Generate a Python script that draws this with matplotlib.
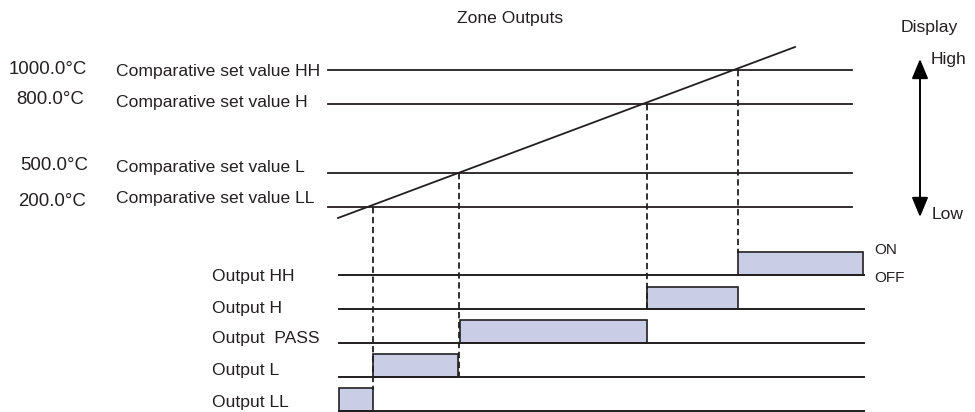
import matplotlib
matplotlib.use('Agg')
import matplotlib.pyplot as plt

plt.rcParams['font.family'] = ['Liberation Sans', 'DejaVu Sans']
plt.rcParams['font.size'] = 12.6

ink = '#231f20'
fill = '#c9cde6'

# comparative set values (top to bottom) and their level in the diagram
set_names = ['Comparative set value HH', 'Comparative set value H',
             'Comparative set value L', 'Comparative set value LL']
set_temps = ['1000.0\u00b0C', '800.0\u00b0C', '500.0\u00b0C', '200.0\u00b0C']
set_levels = [70, 104, 172.5, 206.5]
set_label_y = [71, 102, 167, 198]
temp_label_y = [69, 99, 165, 201]
temp_label_x = [48, 50, 54, 52]

# rising display value (start / end)
ramp_x = [338, 795]
ramp_y = [218, 47]

# where the display value crosses LL, L, H, HH
switch_x = [373, 459, 647, 738]
switch_level = [206.5, 172.5, 104, 70]
# bottom end of the dashed guide for each crossing
guide_end = [390, 376, 310, 253]

# outputs (top to bottom) and when each one is ON
out_names = ['Output HH', 'Output H', 'Output  PASS', 'Output L', 'Output LL']
out_base = [274.7, 309.3, 342.7, 377, 410.8]
out_label_y = [276, 308, 339, 371, 402]
on_start = [738, 647, 460, 373, 339]
on_end = [863, 738, 647, 458, 373]

fig = plt.figure(figsize=(9.75, 4.12), dpi=100)
ax = fig.add_axes([0, 0, 1, 1])
ax.set_xlim(0, 975)
ax.set_ylim(412, 0)
ax.axis('off')

ax.text(510, 18, 'Zone Outputs', ha='center', va='center', color=ink)

# set value lines
for name, temp, y, ly, ty, tx in zip(set_names, set_temps, set_levels,
                                     set_label_y, temp_label_y, temp_label_x):
    ax.plot([328, 852], [y, y], color=ink, lw=1.3)
    ax.text(116, ly, name, ha='left', va='center', color=ink)
    ax.text(tx, ty, temp, ha='center', va='center', color=ink, fontsize=13.4)

ax.plot(ramp_x, ramp_y, color=ink, lw=1.3)

# dashed guides
for x, y0, y1 in zip(switch_x, switch_level, guide_end):
    ax.plot([x, x], [y0, y1], color=ink, lw=1.3, linestyle=(0, (3.5, 2)))

# output timing
for name, yb, ly, x0, x1 in zip(out_names, out_base, out_label_y, on_start, on_end):
    ax.plot([339, 864], [yb, yb], color=ink, lw=1.4)
    ax.bar(x0, -22.6, width=x1 - x0, bottom=yb, align='edge',
           color=fill, edgecolor=ink, linewidth=1.2)
    ax.text(212, ly, name, ha='left', va='center', color=ink)

ax.text(874, 250, 'ON', ha='left', va='center', color=ink, fontsize=11)
ax.text(874, 278, 'OFF', ha='left', va='center', color=ink, fontsize=11)

# display direction arrow
ax.text(901, 27, 'Display', ha='left', va='center', color=ink)
ax.annotate('', xy=(920, 59), xytext=(920, 217),
            arrowprops=dict(arrowstyle='<|-|>,head_length=1.2,head_width=0.5',
                            mutation_scale=10, color='black', lw=1.4,
                            shrinkA=0, shrinkB=0))
ax.text(931, 59, 'High', ha='left', va='center', color=ink)
ax.text(932, 214, 'Low', ha='left', va='center', color=ink)

fig.savefig('out.png', dpi=100)
